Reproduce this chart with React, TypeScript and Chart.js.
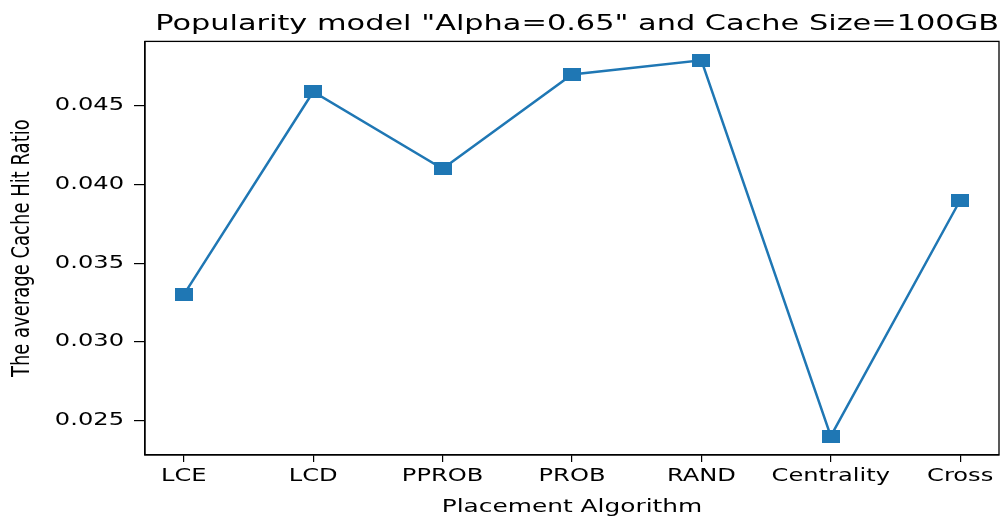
import React, { useEffect, useRef } from "react";
import { Chart, registerables } from "chart.js";

Chart.register(...registerables);

const categories = ["LCE", "LCD", "PPROB", "PROB", "RAND", "Centrality", "Cross"];
const hitRatio = [0.033, 0.0459, 0.041, 0.047, 0.0479, 0.024, 0.039];
const yTickStep = 0.005;
const yMin = 0.0228;
const yMax = 0.0491;

const FONT = "'DejaVu Sans', sans-serif";
const TEXT_STRETCH = 1.38;
const LINE_COLOR = "#1f77b4";

const framePlugin = {
  id: "frame",
  afterDraw(chart: any) {
    const { ctx, chartArea } = chart;
    ctx.save();
    ctx.strokeStyle = "#000";
    ctx.lineWidth = 1.3;
    ctx.strokeRect(chartArea.left, chartArea.top, chartArea.right - chartArea.left, chartArea.bottom - chartArea.top);
    ctx.restore();
  },
};

function stretchText(ctx: any) {
  if (ctx.__stretched) return;
  ctx.__stretched = true;
  const origFill = ctx.fillText.bind(ctx);
  const origMeasure = ctx.measureText.bind(ctx);
  ctx.fillText = (text: string, x: number, y: number, maxWidth?: number) => {
    const m = ctx.getTransform();
    const px = m.a * x + m.c * y + m.e;
    const py = m.b * x + m.d * y + m.f;
    ctx.save();
    const nm = new DOMMatrix().translate(px, py).scale(TEXT_STRETCH, 1).translate(-px, -py).multiply(m);
    ctx.setTransform(nm);
    if (maxWidth === undefined) origFill(text, x, y);
    else origFill(text, x, y, maxWidth);
    ctx.restore();
  };
  ctx.measureText = (text: string) => {
    const r = origMeasure(text);
    return {
      width: r.width * TEXT_STRETCH,
      actualBoundingBoxAscent: r.actualBoundingBoxAscent,
      actualBoundingBoxDescent: r.actualBoundingBoxDescent,
      actualBoundingBoxLeft: r.actualBoundingBoxLeft * TEXT_STRETCH,
      actualBoundingBoxRight: r.actualBoundingBoxRight * TEXT_STRETCH,
    };
  };
}

function makeMarker() {
  const c = document.createElement("canvas");
  c.width = 18;
  c.height = 13;
  const g = c.getContext("2d")!;
  g.fillStyle = LINE_COLOR;
  g.fillRect(0, 0, 18, 13);
  return c;
}

export default function App() {
  const ref = useRef<HTMLCanvasElement | null>(null);
  useEffect(() => {
    if (!ref.current) return;
    const ctx = ref.current.getContext("2d")!;
    stretchText(ctx);
    const marker = makeMarker();
    const chart = new Chart(ctx, {
      type: "line",
      data: {
        datasets: [
          {
            data: hitRatio.map((v, i) => ({ x: i, y: v })),
            borderColor: LINE_COLOR,
            backgroundColor: LINE_COLOR,
            borderWidth: 2.5,
            pointStyle: marker as any,
            pointRadius: 9,
            pointBorderWidth: 0,
            tension: 0,
          },
        ],
      },
      options: {
        animation: false,
        responsive: false,
        layout: { padding: { left: 10, right: 5, top: 0, bottom: 0 } },
        plugins: {
          legend: { display: false },
          tooltip: { enabled: false },
          title: {
            display: true,
            fullSize: false,
            align: "end",
            text: 'Popularity model "Alpha=0.65" and Cache Size=100GB',
            color: "#000",
            font: { family: FONT, size: 22, weight: "normal" },
            padding: { top: 11, bottom: 4 },
          },
        },
        scales: {
          x: {
            type: "linear",
            min: -0.3,
            max: 6.3,
            grid: { drawOnChartArea: false, drawTicks: true, tickLength: 7, color: "#000", lineWidth: 1.2 },
            border: { display: true, color: "#000", width: 1.3 },
            ticks: {
              stepSize: 1,
              includeBounds: false,
              autoSkip: false,
              maxRotation: 0,
              color: "#000",
              padding: 4,
              font: { family: FONT, size: 17.5 },
              callback: (v: any) => categories[v as number] ?? "",
            },
            title: {
              display: true,
              text: "Placement Algorithm",
              color: "#000",
              font: { family: FONT, size: 18 },
              padding: { top: 2, bottom: 0 },
            },
            afterFit: (s: any) => {
              s.height = 63;
            },
          },
          y: {
            type: "linear",
            min: yMin,
            max: yMax,
            grid: { drawOnChartArea: false, drawTicks: true, tickLength: 11, color: "#000", lineWidth: 1.2 },
            border: { display: true, color: "#000", width: 1.3 },
            ticks: {
              stepSize: yTickStep,
              includeBounds: false,
              color: "#000",
              padding: 10,
              font: { family: FONT, size: 17.5 },
              callback: (v: any) => (v as number).toFixed(3),
            },
            title: {
              display: true,
              text: "The average Cache Hit Ratio",
              color: "#000",
              font: { family: FONT, size: 18 },
              padding: { top: 2, bottom: 0 },
            },
            afterFit: (s: any) => {
              s.width = 135;
            },
          },
        },
      },
      plugins: [framePlugin],
    });
    return () => chart.destroy();
  }, []);
  return (
    <div style={{ position: "absolute", left: 0, top: 0, width: 1008, height: 518, background: "#fff" }}>
      <canvas ref={ref} width={1008} height={518} />
    </div>
  );
}
